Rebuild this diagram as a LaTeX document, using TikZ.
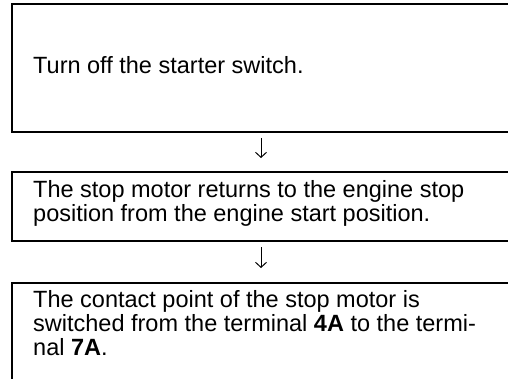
\documentclass[tikz,border=0pt]{standalone}
\usepackage{fontspec}
\setmainfont{Liberation Sans}
\usetikzlibrary{positioning,arrows.meta}

\begin{document}
\begin{tikzpicture}[x=1pt, y=1pt,
        stepbox/.style={draw, line width=2pt, rectangle, minimum width=498pt, outer sep=0pt, inner sep=0pt},
        steptext/.style={inner sep=0pt, align=left, font=\fontsize{23.5}{24}\selectfont},
        flow/.style={-{Straight Barb[length=5pt, width=11pt]}, line width=1pt}]
        % Page size and crop
        \useasboundingbox (0,0) rectangle (508,378);
        \clip (0,0) rectangle (508,378);

        % Frames of the steps (right and lower edges run off the page)
        \node[stepbox, minimum height=127.5pt, anchor=north] (box1) at (261,373.5) {};
        \node[stepbox, minimum height=69.5pt, below=39.5pt of box1] (box2) {};
        \node[stepbox, minimum height=137pt, below=42pt of box2] (box3) {};

        % Texts of the steps
        \node[steptext, below right=51.7pt and 21pt of box1.north west] (text1)
            {Turn off the starter switch.};
        \node[steptext, below right=8.5pt and 21pt of box2.north west] (text2)
            {The stop motor returns to the engine stop\\position from the engine start position.};
        \node[steptext, below right=7pt and 21pt of box3.north west] (text3)
            {The contact point of the stop motor is\\switched from the terminal \textbf{4A} to the termi-\\nal \textbf{7A}.};

        % Arrows between the steps
        \draw[flow, shorten <=6pt, shorten >=13.5pt] (box1.south) -- (box2.north);
        \draw[flow, shorten <=6pt, shorten >=15pt] (box2.south) -- (box3.north);

    \end{tikzpicture}
\end{document}
